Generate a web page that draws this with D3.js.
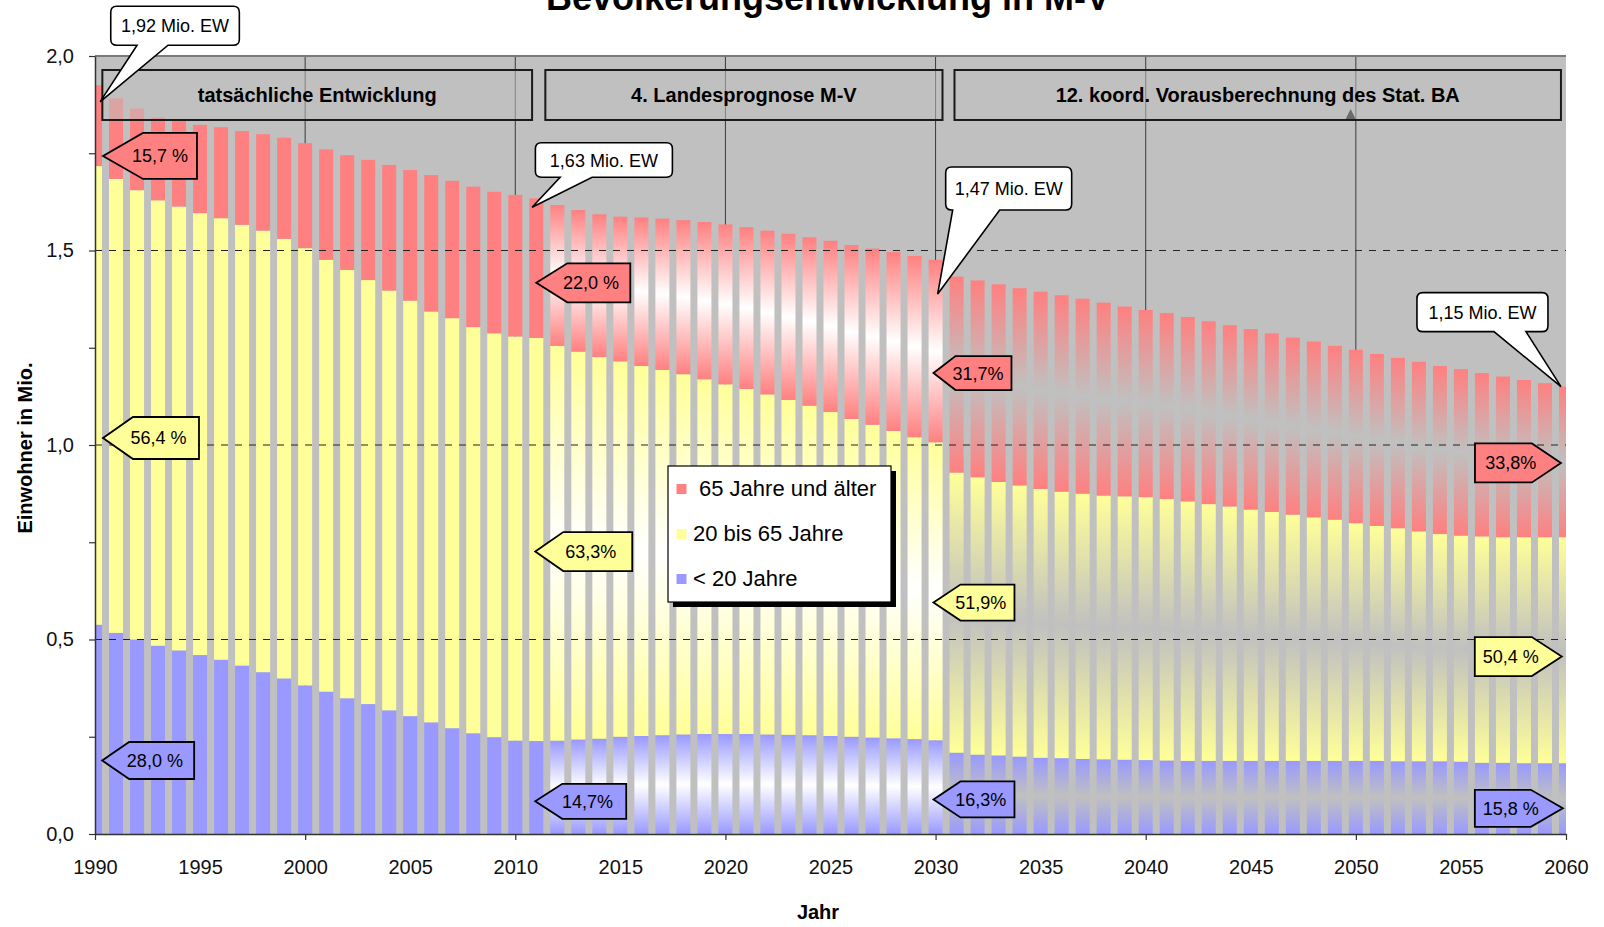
<!DOCTYPE html>
<meta charset="utf-8">
<script src="https://d3js.org/d3.v7.min.js"></script>
<style>
  body { margin: 0; background: #ffffff; }
  #my_dataviz svg { display: block; font-family: "Liberation Sans", Arial, sans-serif; }
</style>
<body>
<div id="my_dataviz"></div>
<script>

// years on the category axis
var years = [1990, 1991, 1992, 1993, 1994, 1995, 1996, 1997, 1998, 1999,
             2000, 2001, 2002, 2003, 2004, 2005, 2006, 2007, 2008, 2009,
             2010, 2011, 2012, 2013, 2014, 2015, 2016, 2017, 2018, 2019,
             2020, 2021, 2022, 2023, 2024, 2025, 2026, 2027, 2028, 2029,
             2030, 2031, 2032, 2033, 2034, 2035, 2036, 2037, 2038, 2039,
             2040, 2041, 2042, 2043, 2044, 2045, 2046, 2047, 2048, 2049,
             2050, 2051, 2052, 2053, 2054, 2055, 2056, 2057, 2058, 2059,
             2060];

// Einwohner in Mio. per age group
var under20 = [0.538, 0.517, 0.500, 0.484, 0.472, 0.460, 0.448, 0.433, 0.416, 0.400,
               0.382, 0.366, 0.349, 0.334, 0.318, 0.303, 0.287, 0.272, 0.259, 0.249,
               0.240, 0.239, 0.240, 0.243, 0.245, 0.250, 0.252, 0.254, 0.256, 0.257,
               0.257, 0.257, 0.256, 0.255, 0.254, 0.252, 0.250, 0.248, 0.246, 0.244,
               0.241, 0.209, 0.204, 0.202, 0.199, 0.196, 0.195, 0.193, 0.192, 0.191,
               0.190, 0.189, 0.188, 0.188, 0.188, 0.188, 0.188, 0.188, 0.188, 0.188,
               0.188, 0.188, 0.187, 0.187, 0.187, 0.186, 0.183, 0.183, 0.182, 0.182,
               0.182];

var age20to65 = [1.179, 1.167, 1.155, 1.145, 1.141, 1.136, 1.135, 1.133, 1.135, 1.130,
                 1.124, 1.110, 1.101, 1.090, 1.079, 1.068, 1.056, 1.054, 1.044, 1.038,
                 1.039, 1.036, 1.015, 0.997, 0.981, 0.965, 0.951, 0.939, 0.926, 0.912,
                 0.899, 0.887, 0.874, 0.861, 0.847, 0.833, 0.817, 0.804, 0.790, 0.776,
                 0.766, 0.720, 0.713, 0.703, 0.697, 0.691, 0.685, 0.682, 0.678, 0.677,
                 0.676, 0.672, 0.667, 0.660, 0.654, 0.646, 0.640, 0.633, 0.626, 0.620,
                 0.611, 0.604, 0.599, 0.591, 0.584, 0.581, 0.582, 0.580, 0.581, 0.581,
                 0.581];

var age65plus = [0.208, 0.207, 0.210, 0.213, 0.221, 0.227, 0.234, 0.241, 0.248, 0.260,
                 0.270, 0.284, 0.295, 0.309, 0.323, 0.336, 0.351, 0.353, 0.361, 0.364,
                 0.364, 0.359, 0.362, 0.364, 0.367, 0.372, 0.382, 0.389, 0.396, 0.404,
                 0.411, 0.416, 0.421, 0.427, 0.433, 0.440, 0.447, 0.453, 0.460, 0.466,
                 0.469, 0.504, 0.506, 0.508, 0.507, 0.507, 0.505, 0.501, 0.496, 0.488,
                 0.481, 0.478, 0.474, 0.470, 0.466, 0.464, 0.459, 0.455, 0.452, 0.447,
                 0.446, 0.442, 0.438, 0.436, 0.432, 0.428, 0.420, 0.413, 0.404, 0.396,
                 0.387];

var groupKeys = ["u20", "mid", "o65"];
var legendKeys = ["o65", "mid", "u20"];
var legendNames = ["65 Jahre und älter", "20 bis 65 Jahre", "< 20 Jahre"];

var periodNames = ["tatsächliche Entwicklung", "4. Landesprognose M-V", "12. koord. Vorausberechnung des Stat. BA"];
var periodFirstYear = [1990, 2012, 2031];

var yTickValues = [0, 0.5, 1, 1.5, 2];
var yMinorTicks = [0.25, 0.75, 1.25, 1.75];
var yGridValues = [0.5, 1, 1.5];
var xLabelYears = [1990, 1995, 2000, 2005, 2010, 2015, 2020, 2025, 2030, 2035, 2040, 2045, 2050, 2055, 2060];
var xTickYears = [1990, 2000, 2010, 2020, 2030, 2040, 2050, 2060];
var xGridYears = [2000, 2010, 2020, 2030, 2040, 2050];

var totalTexts = ["1,92 Mio. EW", "1,63 Mio. EW", "1,47 Mio. EW", "1,15 Mio. EW"];
var shareTexts = ["15,7 %", "56,4 %", "28,0 %",
                  "22,0 %", "63,3%", "14,7%",
                  "31,7%", "51,9%", "16,3%",
                  "33,8%", "50,4 %", "15,8 %"];
var shareGroups = ["o65", "mid", "u20", "o65", "mid", "u20", "o65", "mid", "u20", "o65", "mid", "u20"];

// colours
var colors = {o65: "#ff8080", mid: "#ffff99", u20: "#9999ff"};

// set the dimensions and margins of the graph
var margin = {top: 56, right: 38, bottom: 93, left: 95},
    width = 1604 - margin.left - margin.right,
    height = 927 - margin.top - margin.bottom;

var svg0 = d3.select("#my_dataviz")
  .append("svg")
    .attr("width", 1604)
    .attr("height", 927);

var defs = svg0.append("defs");

var svg = svg0.append("g")
    .attr("transform", "translate(" + margin.left + "," + margin.top + ")");

var x = d3.scaleLinear().domain([1990, 2060]).range([0, width]);
var y = d3.scaleLinear().domain([0, 2]).range([height, 0]);
var barW = (x(1991) - x(1990)) * 0.667;

// gradients used for the two forecast periods
groupKeys.forEach(function(k) {
  [["white", "#ffffff"], ["gray", "#c0c0c0"]].forEach(function(m) {
    var g = defs.append("linearGradient")
      .attr("id", "fade-" + m[0] + "-" + k)
      .attr("x1", 0).attr("y1", 0).attr("x2", 0).attr("y2", 1);
    g.append("stop").attr("offset", "0%").attr("stop-color", colors[k]);
    g.append("stop").attr("offset", "50%").attr("stop-color", m[1]);
    g.append("stop").attr("offset", "100%").attr("stop-color", colors[k]);
  });
});

defs.append("clipPath").attr("id", "plotclip")
  .append("rect").attr("x", 0).attr("y", -2).attr("width", width).attr("height", height + 2);

function periodOf(yr) {
  if (yr >= periodFirstYear[2]) return 2;
  if (yr >= periodFirstYear[1]) return 1;
  return 0;
}

function segFill(key, yr) {
  var p = periodOf(yr);
  if (p === 0) return colors[key];
  if (p === 1) return "url(#fade-white-" + key + ")";
  return "url(#fade-gray-" + key + ")";
}

// plot background
svg.append("rect")
  .attr("width", width).attr("height", height)
  .attr("fill", "#c0c0c0");

// vertical grid lines (behind bars)
svg.selectAll(".vgrid")
  .data(xGridYears)
  .enter().append("line")
    .attr("x1", function(d) { return x(d); })
    .attr("x2", function(d) { return x(d); })
    .attr("y1", 0).attr("y2", height)
    .attr("stroke", "#3a3a3a").attr("stroke-width", 1);

// stacked bars
var data = years.map(function(yr, i) {
  return {year: yr, u20: under20[i], mid: age20to65[i], o65: age65plus[i]};
});
var series = d3.stack().keys(groupKeys)(data);

var bars = svg.append("g").attr("clip-path", "url(#plotclip)");
bars.selectAll("g")
  .data(series)
  .enter().append("g")
  .selectAll("rect")
  .data(function(s) { return s.map(function(d) { return {key: s.key, d: d}; }); })
  .enter().append("rect")
    .attr("x", function(e) { return x(e.d.data.year) - barW / 2; })
    .attr("width", barW)
    .attr("y", function(e) { return y(e.d[1]); })
    .attr("height", function(e) { return y(e.d[0]) - y(e.d[1]); })
    .attr("fill", function(e) { return segFill(e.key, e.d.data.year); });

// period header boxes
var headerYears = [[1990.35, 2010.8], [2011.43, 2030.33], [2030.9, 2059.76]];
var headerTop = y(1.964), headerBottom = y(1.8355);
periodNames.forEach(function(name, i) {
  var x0 = x(headerYears[i][0]), x1 = x(headerYears[i][1]);
  svg.append("rect")
    .attr("x", x0).attr("y", headerTop)
    .attr("width", x1 - x0).attr("height", headerBottom - headerTop)
    .attr("fill", "#c0c0c0").attr("fill-opacity", 0.55)
    .attr("stroke", "#1a1a1a").attr("stroke-width", 2);
  svg.append("text")
    .attr("x", (x0 + x1) / 2)
    .attr("y", (headerTop + headerBottom) / 2)
    .attr("dy", "0.36em")
    .attr("text-anchor", "middle")
    .style("font-size", "20px").style("font-weight", "bold")
    .text(name);
});
// small marker under the last header box
var mx = x(2049.75);
svg.append("path")
  .attr("d", "M" + (mx - 5) + "," + (headerBottom - 1) + "L" + mx + "," + (headerBottom - 11) + "L" + (mx + 5) + "," + (headerBottom - 1) + "Z")
  .attr("fill", "#6a6a6a");

// dashed horizontal grid lines
svg.selectAll(".hgrid")
  .data(yGridValues)
  .enter().append("line")
    .attr("x1", 0).attr("x2", width)
    .attr("y1", function(d) { return y(d); })
    .attr("y2", function(d) { return y(d); })
    .attr("stroke", "#222").attr("stroke-width", 1.2)
    .attr("stroke-dasharray", "7,7");

// top border of plot
svg.append("line")
  .attr("x1", 0).attr("x2", width).attr("y1", 0).attr("y2", 0)
  .attr("stroke", "#7a7a7a").attr("stroke-width", 2);

// Y axis
var fmt = function(d) { return d3.format(".1f")(d).replace(".", ","); };
var yAxis = svg.append("g")
  .call(d3.axisLeft(y).tickValues(yTickValues).tickFormat(fmt).tickSize(6).tickSizeOuter(0).tickPadding(15));
svg.append("g")
  .call(d3.axisLeft(y).tickValues(yMinorTicks).tickFormat("").tickSize(6).tickSizeOuter(0))
  .select(".domain").remove();

// X axis
var xAxis = svg.append("g")
  .attr("transform", "translate(0," + height + ")")
  .call(d3.axisBottom(x).tickValues(xTickYears).tickFormat("").tickSize(6).tickSizeOuter(0));
var xLabels = svg.append("g")
  .attr("transform", "translate(0," + height + ")")
  .call(d3.axisBottom(x).tickValues(xLabelYears).tickFormat(d3.format("d")).tickSize(0).tickPadding(26));
xLabels.select(".domain").remove();

svg.selectAll(".domain").attr("stroke", "#333").attr("stroke-width", 1.5);
svg.selectAll(".tick line").attr("stroke", "#333").attr("stroke-width", 1.2);
svg.selectAll(".tick text")
  .style("font-size", "20px")
  .style("font-family", "'Liberation Sans', Arial, sans-serif")
  .attr("fill", "#111");

// callouts with the population totals
var calloutLayout = [
  {year: 1990.24, value: 1.882, box: [10.7, 139.3, -95.7, -56.7], base: [37, 68]},
  {year: 2010.8, value: 1.611, box: [3.3, 140.3, -64.6, -30], base: [28, 60]},
  {year: 2030.1, value: 1.388, box: [8, 134, -127, -84], base: [15, 62]},
  {year: 2059.76, value: 1.150, box: [-144, -13, -94, -55], base: [-67, -35]}
];

function calloutPath(tx, ty, c) {
  var r = 6;
  var x0 = tx + c.box[0], x1 = tx + c.box[1], y0 = ty + c.box[2], y1 = ty + c.box[3];
  var b0 = tx + c.base[0], b1 = tx + c.base[1];
  return "M" + (x0 + r) + "," + y0 +
    "H" + (x1 - r) + "Q" + x1 + "," + y0 + " " + x1 + "," + (y0 + r) +
    "V" + (y1 - r) + "Q" + x1 + "," + y1 + " " + (x1 - r) + "," + y1 +
    "H" + b1 + "L" + tx + "," + ty + "L" + b0 + "," + y1 +
    "H" + (x0 + r) + "Q" + x0 + "," + y1 + " " + x0 + "," + (y1 - r) +
    "V" + (y0 + r) + "Q" + x0 + "," + y0 + " " + (x0 + r) + "," + y0 + "Z";
}

totalTexts.forEach(function(t, i) {
  var c = calloutLayout[i];
  var tx = x(c.year), ty = y(c.value);
  svg.append("path")
    .attr("d", calloutPath(tx, ty, c))
    .attr("fill", "#ffffff").attr("stroke", "#000").attr("stroke-width", 1.6)
    .attr("stroke-linejoin", "miter");
  svg.append("text")
    .attr("x", tx + (c.box[0] + c.box[1]) / 2)
    .attr("y", ty + (c.box[2] + c.box[3]) / 2)
    .attr("dy", "0.36em")
    .attr("text-anchor", "middle")
    .style("font-size", "18px")
    .text(t);
});

// arrow labels with the group shares
var shareLayout = [
  {dir: "left", year: 1990.38, value: 1.743, w: 94, h: 46, d: 40},
  {dir: "left", year: 1990.38, value: 1.018, w: 96, h: 42, d: 30},
  {dir: "left", year: 1990.34, value: 0.189, w: 92, h: 37, d: 27},
  {dir: "left", year: 2011.0, value: 1.417, w: 94, h: 39, d: 31},
  {dir: "left", year: 2010.95, value: 0.726, w: 97, h: 39, d: 28},
  {dir: "left", year: 2010.95, value: 0.084, w: 91, h: 35, d: 27},
  {dir: "left", year: 2029.9, value: 1.185, w: 78, h: 34, d: 22},
  {dir: "left", year: 2029.9, value: 0.595, w: 81, h: 36, d: 27},
  {dir: "left", year: 2029.9, value: 0.089, w: 81, h: 36, d: 27},
  {dir: "right", year: 2059.76, value: 0.954, w: 86, h: 39, d: 29},
  {dir: "right", year: 2059.8, value: 0.456, w: 87, h: 39, d: 30},
  {dir: "right", year: 2059.85, value: 0.066, w: 88, h: 37, d: 32}
];

function arrowPath(tx, ty, a) {
  var s = a.dir === "left" ? 1 : -1;
  return "M" + tx + "," + ty +
    "L" + (tx + s * a.d) + "," + (ty - a.h / 2) +
    "L" + (tx + s * a.w) + "," + (ty - a.h / 2) +
    "L" + (tx + s * a.w) + "," + (ty + a.h / 2) +
    "L" + (tx + s * a.d) + "," + (ty + a.h / 2) + "Z";
}

shareTexts.forEach(function(t, i) {
  var a = shareLayout[i];
  var tx = x(a.year), ty = y(a.value);
  var s = a.dir === "left" ? 1 : -1;
  svg.append("path")
    .attr("d", arrowPath(tx, ty, a))
    .attr("fill", colors[shareGroups[i]])
    .attr("stroke", "#000").attr("stroke-width", 1.8);
  svg.append("text")
    .attr("x", tx + s * (0.25 * a.d + 0.5 * a.w))
    .attr("y", ty)
    .attr("dy", "0.36em")
    .attr("text-anchor", "middle")
    .style("font-size", "18px")
    .text(t);
});

// legend
var lg = svg.append("g").attr("transform", "translate(573,410)");
lg.append("rect").attr("x", 5).attr("y", 5).attr("width", 223).attr("height", 136).attr("fill", "#000");
lg.append("rect").attr("width", 223).attr("height", 136)
  .attr("fill", "#ffffff").attr("stroke", "#000").attr("stroke-width", 1.2);
var legendRowY = [30, 75, 120];
var legendTextX = [31, 25, 25];
legendKeys.forEach(function(k, i) {
  lg.append("rect")
    .attr("x", 8.5).attr("y", legendRowY[i] - 12)
    .attr("width", 10).attr("height", 10)
    .attr("fill", colors[k]);
  lg.append("text")
    .attr("x", legendTextX[i]).attr("y", legendRowY[i])
    .style("font-size", "22px")
    .text(legendNames[i]);
});

// titles
svg0.append("text")
  .attr("x", 828).attr("y", 10)
  .attr("text-anchor", "middle")
  .style("font-size", "36px").style("font-weight", "bold")
  .text("Bevölkerungsentwicklung in M-V");

svg0.append("text")
  .attr("transform", "translate(31.5," + (margin.top + height / 2 + 3) + ") rotate(-90)")
  .attr("text-anchor", "middle")
  .style("font-size", "20px").style("font-weight", "bold")
  .text("Einwohner in Mio.");

svg0.append("text")
  .attr("x", 818).attr("y", 919)
  .attr("text-anchor", "middle")
  .style("font-size", "20px").style("font-weight", "bold")
  .text("Jahr");

</script>
</body>
</html>
